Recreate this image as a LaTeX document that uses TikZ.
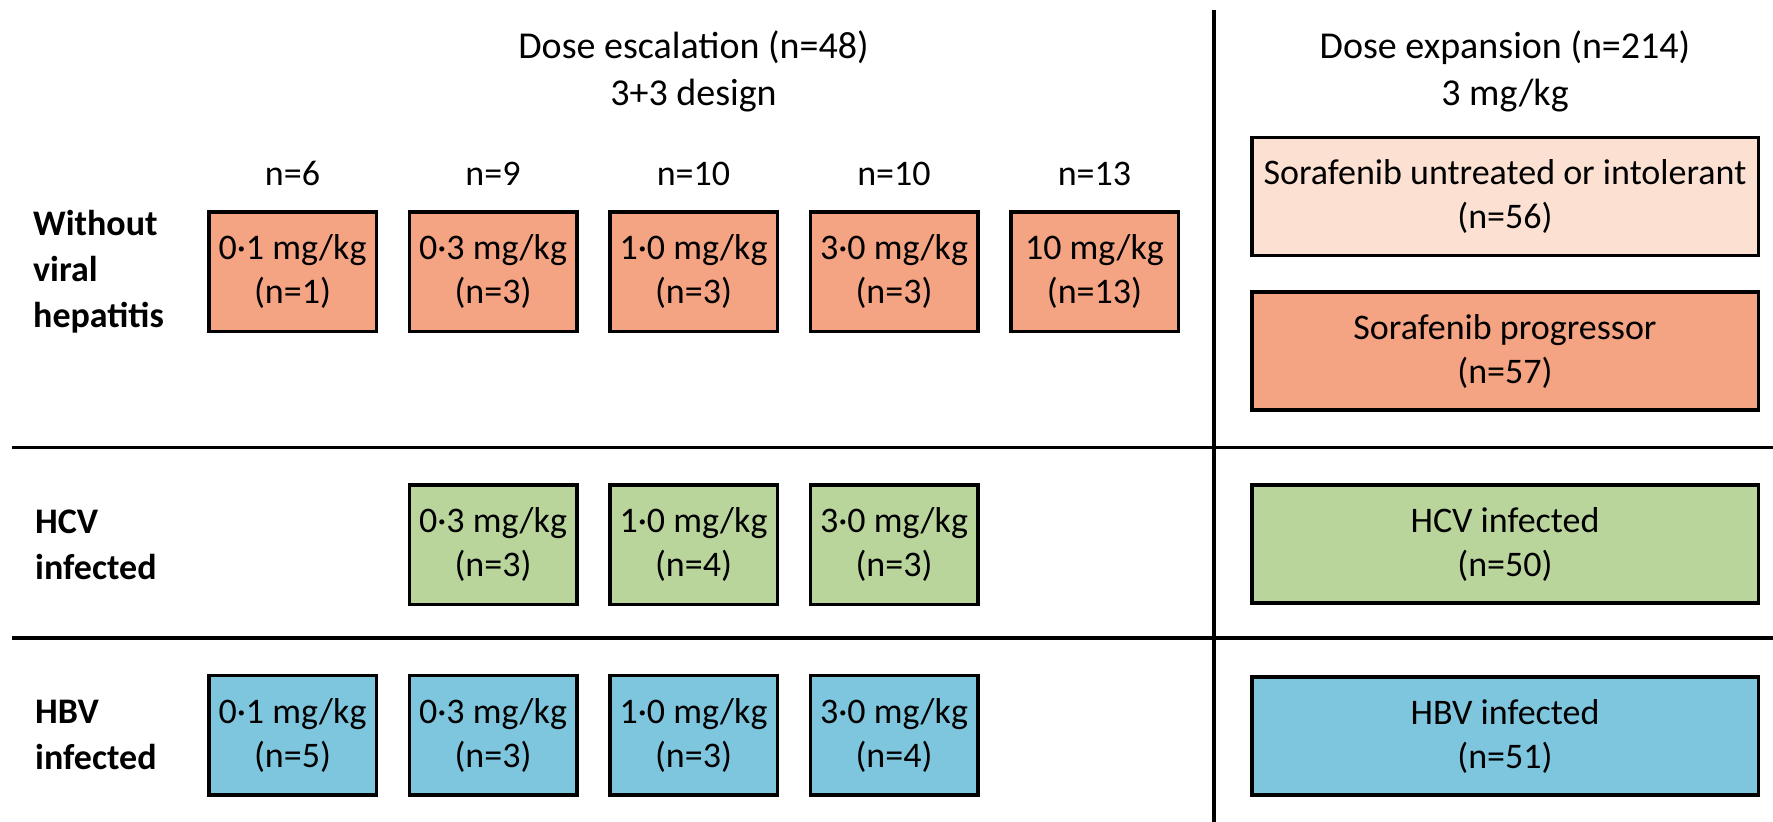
\documentclass[tikz,border=0pt]{standalone}
\usepackage{fontspec}
\setmainfont{Carlito}
\usepackage{xcolor}
\definecolor{salmon}{HTML}{F4A383}
\definecolor{peach}{HTML}{FCE1D2}
\definecolor{leaf}{HTML}{BAD59C}
\definecolor{sky}{HTML}{7EC6DE}
\tikzset{
  dosebox/.style={draw, line width=3.5pt, minimum width=167.5pt, minimum height=119.5pt,
    inner sep=0pt, align=center, font=\fontsize{36}{44}\selectfont},
  expbox/.style={dosebox, minimum width=506.5pt, minimum height=118pt},
  rowlabel/.style={anchor=west, align=left, inner sep=0pt, font=\bfseries\fontsize{36}{46}\selectfont},
  countlabel/.style={anchor=base, inner sep=0pt, font=\fontsize{36}{44}\selectfont},
  headlabel/.style={anchor=base, align=center, inner sep=0pt, font=\fontsize{38}{47}\selectfont},
  divider/.style={line width=3.5pt}
}

\begin{document}
\begin{tikzpicture}[x=1pt, y=-1pt]
		\useasboundingbox (0,0) rectangle (1773,822);

		% headers (base = last line)
		\node[headlabel] (esc) at (693.5,105) {Dose escalation (n=48)\\3+3 design};
		\node[headlabel] (exp) at (1505,105) {Dose expansion (n=214)\\3 mg/kg};

		% row labels
		\node[rowlabel] (nonviral) at (33,271.5) {Without\\viral\\hepatitis};
		\node[rowlabel] (hcv) at (35,544.5) {HCV\\infected};
		\node[rowlabel] (hbv) at (35,735) {HBV\\infected};

		% escalation cohorts
		\foreach \i/\n/\d/\k in {1/6/0·1/1, 2/9/0·3/3, 3/10/1·0/3, 4/10/3·0/3, 5/13/10/13} {
			\node[countlabel] (n\i) at (92+200.5*\i,185) {n=\n};
			\node[dosebox, fill=salmon] (a\i) at (92+200.5*\i,271.5) {\d\ mg/kg\\(n=\k)};
		}
		\foreach \i/\d/\k in {2/0·3/3, 3/1·0/4, 4/3·0/3}
			\node[dosebox, fill=leaf] (c\i) at (92+200.5*\i,544.5) {\d\ mg/kg\\(n=\k)};
		\foreach \i/\d/\k in {1/0·1/5, 2/0·3/3, 3/1·0/3, 4/3·0/4}
			\node[dosebox, fill=sky] (b\i) at (92+200.5*\i,735) {\d\ mg/kg\\(n=\k)};

		% expansion cohorts
		\node[expbox, fill=peach] (untreated) at (1505,196.5) {Sorafenib untreated or intolerant\\(n=56)};
		\node[expbox, fill=salmon] (progressor) at (1505,351) {Sorafenib progressor\\(n=57)};
		\node[expbox, fill=leaf] (hcvexp) at (1505,544) {HCV infected\\(n=50)};
		\node[expbox, fill=sky] (hbvexp) at (1505,736) {HBV infected\\(n=51)};

		% dividers
		\coordinate (top) at (1214,10);
		\coordinate (bottom) at (1214,822);
		\coordinate (left1) at (12,447.5);
		\coordinate (right1) at (1773,447.5);
		\coordinate (left2) at (12,638);
		\coordinate (right2) at (1773,638);
		\draw[divider] (top) -- (bottom);
		\draw[divider] (left1) -- (right1);
		\draw[divider] (left2) -- (right2);
	\end{tikzpicture}
\end{document}
